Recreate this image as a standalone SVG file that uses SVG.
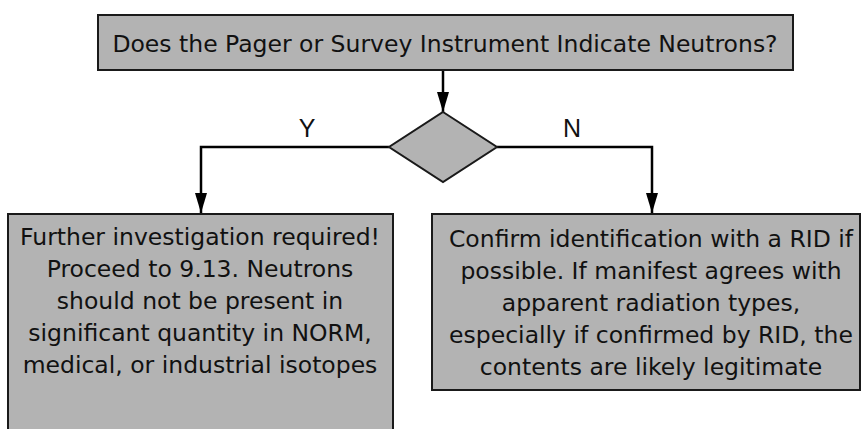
<svg xmlns="http://www.w3.org/2000/svg" width="861" height="429" viewBox="0 0 861 429">
<defs>
<style>
.box{fill:#b3b3b3;stroke:#1a1a1a;stroke-width:2}
.t{font-family:"DejaVu Sans",Verdana,sans-serif;font-size:23.5px;fill:#111;text-anchor:middle}
.lbl{font-family:"Liberation Sans",Arial,sans-serif;font-size:25px;fill:#111;text-anchor:middle}
.c{fill:none;stroke:#000;stroke-width:2.5}
</style>
<marker id="ah" markerWidth="20" markerHeight="12" refX="20" refY="6" orient="auto" markerUnits="userSpaceOnUse" viewBox="0 0 20 12">
<path d="M0,0 L20,6 L0,12 Z" fill="#000"/>
</marker>
</defs>
<rect width="861" height="429" fill="#fff"/>
<g id="connectors">
<path class="c" d="M443,71 V112" marker-end="url(#ah)"/>
<path class="c" d="M389,147 H201 V213" marker-end="url(#ah)"/>
<path class="c" d="M497,147 H652 V213" marker-end="url(#ah)"/>
<text class="lbl" x="307" y="137">Y</text>
<text class="lbl" x="572" y="137">N</text>
</g>
<g id="question">
<rect class="box" x="98" y="15" width="695" height="55"/>
<text class="t" x="445" y="52">Does the Pager or Survey Instrument Indicate Neutrons?</text>
</g>
<g id="decision">
<polygon class="box" points="443,112 497,147 443,182 389,147"/>
</g>
<g id="yes">
<rect class="box" x="8" y="214" width="385" height="230"/>
<text class="t" x="200" y="245">Further investigation required!</text>
<text class="t" x="200" y="277">Proceed to 9.13. Neutrons</text>
<text class="t" x="200" y="309">should not be present in</text>
<text class="t" x="200" y="341">significant quantity in NORM,</text>
<text class="t" x="200" y="373">medical, or industrial isotopes</text>
</g>
<g id="no">
<rect class="box" x="432" y="214" width="428" height="176"/>
<text class="t" x="651" y="247">Confirm identification with a RID if</text>
<text class="t" x="651" y="279">possible. If manifest agrees with</text>
<text class="t" x="651" y="311">apparent radiation types,</text>
<text class="t" x="651" y="343">especially if confirmed by RID, the</text>
<text class="t" x="651" y="375">contents are likely legitimate</text>
</g>
</svg>
